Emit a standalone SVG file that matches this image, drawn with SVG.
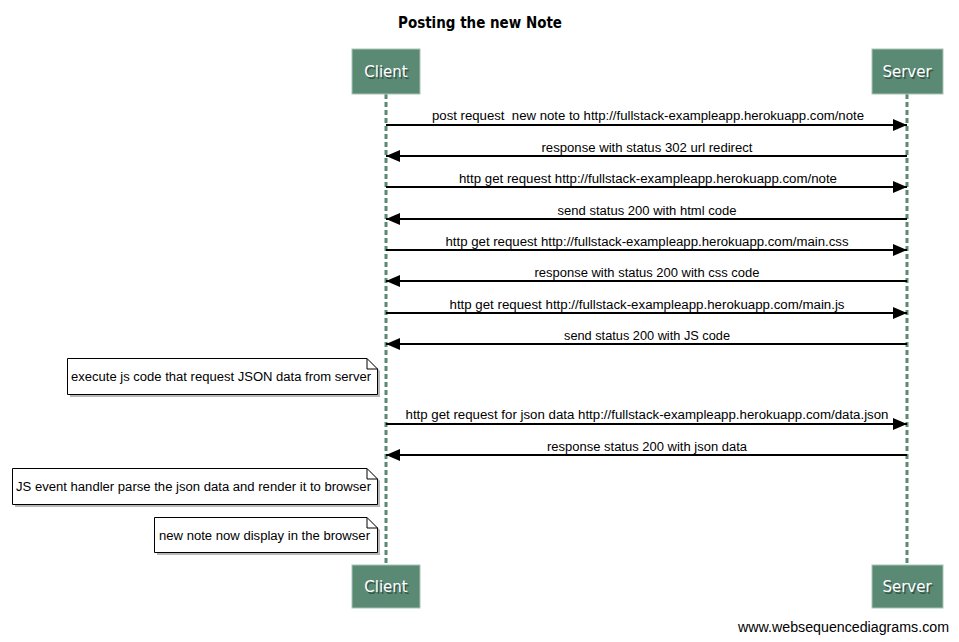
<svg xmlns="http://www.w3.org/2000/svg" width="959" height="642" viewBox="0 0 959 642">
<defs>
<style>
.actor rect{fill:#5a8a73;stroke:#a9c4b6;stroke-width:1}
.actor text{fill:#fff;font-family:"DejaVu Sans","Liberation Sans",sans-serif;font-size:15px;text-anchor:middle}
.actor .sh{fill:#233;opacity:0.6}
.life{stroke:#5a8a73;stroke-width:3;stroke-dasharray:5,3;fill:none}
.msg{stroke:#000;stroke-width:2;fill:none}
.lbl{font-family:"Liberation Sans",Arial,sans-serif;font-size:12px;fill:#000;text-anchor:middle;white-space:pre}
.note .body{fill:#fff;stroke:#000;stroke-width:1}
.note .sh{fill:#888;opacity:0.6}
.note text{font-family:"Liberation Sans",Arial,sans-serif;font-size:12px;fill:#000}
</style>
<marker id="ah" markerWidth="14" markerHeight="12" refX="14" refY="6" orient="auto" markerUnits="userSpaceOnUse">
<path d="M0,0 L14,6 L0,12 Z" fill="#000"/>
</marker>
</defs>
<rect width="959" height="642" fill="#fff"/>
<text x="480" y="28" font-family="DejaVu Sans,Liberation Sans,sans-serif" font-size="15" font-weight="bold" text-anchor="middle" textLength="164" lengthAdjust="spacingAndGlyphs">Posting the new Note</text>

<g id="connectors">
<line class="life" x1="386" y1="94" x2="386" y2="565"/>
<line class="life" x1="907" y1="94" x2="907" y2="565"/>
<line class="msg" x1="386" y1="125" x2="907" y2="125" marker-end="url(#ah)"/>
<text class="lbl" x="648" y="120" textLength="432" lengthAdjust="spacingAndGlyphs" xml:space="preserve">post request  new note to http://fullstack-exampleapp.herokuapp.com/note</text>
<line class="msg" x1="907" y1="156" x2="386" y2="156" marker-end="url(#ah)"/>
<text class="lbl" x="647" y="152" textLength="211" lengthAdjust="spacingAndGlyphs">response with status 302 url redirect</text>
<line class="msg" x1="386" y1="187" x2="907" y2="187" marker-end="url(#ah)"/>
<text class="lbl" x="648" y="183" textLength="378" lengthAdjust="spacingAndGlyphs">http get request http://fullstack-exampleapp.herokuapp.com/note</text>
<line class="msg" x1="907" y1="219" x2="386" y2="219" marker-end="url(#ah)"/>
<text class="lbl" x="647" y="215" textLength="179" lengthAdjust="spacingAndGlyphs">send status 200 with html code</text>
<line class="msg" x1="386" y1="250" x2="907" y2="250" marker-end="url(#ah)"/>
<text class="lbl" x="647" y="246" textLength="403" lengthAdjust="spacingAndGlyphs">http get request http://fullstack-exampleapp.herokuapp.com/main.css</text>
<line class="msg" x1="907" y1="281" x2="386" y2="281" marker-end="url(#ah)"/>
<text class="lbl" x="647" y="277" textLength="225" lengthAdjust="spacingAndGlyphs">response with status 200 with css code</text>
<line class="msg" x1="386" y1="313" x2="907" y2="313" marker-end="url(#ah)"/>
<text class="lbl" x="647" y="309" textLength="395" lengthAdjust="spacingAndGlyphs">http get request http://fullstack-exampleapp.herokuapp.com/main.js</text>
<line class="msg" x1="907" y1="344" x2="386" y2="344" marker-end="url(#ah)"/>
<text class="lbl" x="647" y="340" textLength="166" lengthAdjust="spacingAndGlyphs">send status 200 with JS code</text>
<line class="msg" x1="386" y1="424" x2="907" y2="424" marker-end="url(#ah)"/>
<text class="lbl" x="647" y="419" textLength="483" lengthAdjust="spacingAndGlyphs">http get request for json data http://fullstack-exampleapp.herokuapp.com/data.json</text>
<line class="msg" x1="907" y1="455" x2="386" y2="455" marker-end="url(#ah)"/>
<text class="lbl" x="647" y="451" textLength="200" lengthAdjust="spacingAndGlyphs">response status 200 with json data</text>
</g>

<g id="client-top" class="actor">
<rect x="352" y="49" width="68" height="45"/>
<text class="sh" x="387.5" y="78.5">Client</text>
<text x="386" y="77">Client</text>
</g>
<g id="server-top" class="actor">
<rect x="872" y="49" width="71" height="45"/>
<text class="sh" x="908.5" y="78.5">Server</text>
<text x="907" y="77">Server</text>
</g>
<g id="client-bottom" class="actor">
<rect x="352" y="565" width="68" height="43"/>
<text class="sh" x="387.5" y="593.5">Client</text>
<text x="386" y="592">Client</text>
</g>
<g id="server-bottom" class="actor">
<rect x="872" y="565" width="71" height="43"/>
<text class="sh" x="908.5" y="593.5">Server</text>
<text x="907" y="592">Server</text>
</g>

<g id="note1" class="note">
<path class="sh" d="M70,361 L370,361 L380,371 L380,397 L70,397 Z"/>
<path class="body" d="M67.5,358.5 L367,358.5 L377.5,369 L377.5,394.5 L67.5,394.5 Z"/>
<path d="M367,358.5 L367,369 L377.5,369" fill="none" stroke="#000" stroke-width="1"/>
<text x="71" y="381" textLength="300" lengthAdjust="spacingAndGlyphs">execute js code that request JSON data from server</text>
</g>
<g id="note2" class="note">
<path class="sh" d="M15,471 L370,471 L380,481 L380,507 L15,507 Z"/>
<path class="body" d="M12.5,468.5 L367,468.5 L377.5,479 L377.5,504.5 L12.5,504.5 Z"/>
<path d="M367,468.5 L367,479 L377.5,479" fill="none" stroke="#000" stroke-width="1"/>
<text x="16" y="491" textLength="355" lengthAdjust="spacingAndGlyphs">JS event handler parse the json data and render it to browser</text>
</g>
<g id="note3" class="note">
<path class="sh" d="M157,520 L370,520 L380,530 L380,555 L157,555 Z"/>
<path class="body" d="M154.5,517.5 L367,517.5 L377.5,528 L377.5,552.5 L154.5,552.5 Z"/>
<path d="M367,517.5 L367,528 L377.5,528" fill="none" stroke="#000" stroke-width="1"/>
<text x="159" y="540" textLength="211" lengthAdjust="spacingAndGlyphs">new note now display in the browser</text>
</g>

<text x="949" y="632" font-family="Liberation Sans,Arial,sans-serif" font-size="14" text-anchor="end" textLength="211" lengthAdjust="spacingAndGlyphs">www.websequencediagrams.com</text>
</svg>
